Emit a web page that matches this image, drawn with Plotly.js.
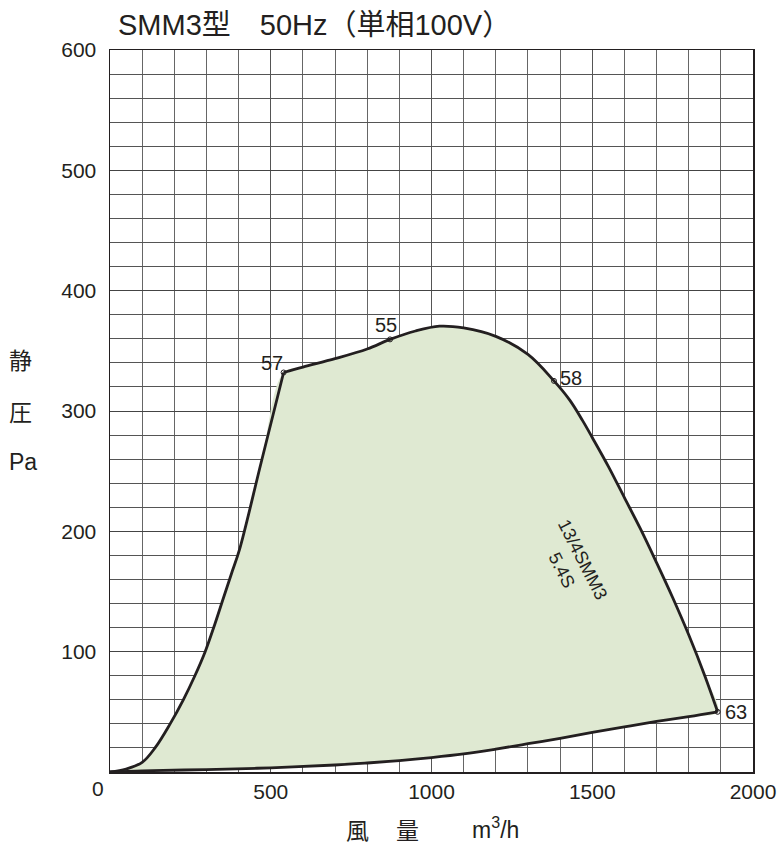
<!DOCTYPE html>
<html>
<head>
<meta charset="utf-8">
<script src="https://cdn.plot.ly/plotly-3.0.1.min.js"></script>
<style>html,body{margin:0;padding:0;background:#fff;}#chart{width:780px;height:847px;}</style>
</head>
<body>
<div id="chart"></div>
<script>
// Left rising curve (from origin up to point 57)
const leftX = [0, 50, 100, 140, 187, 228, 264, 296, 325, 352, 378, 403, 470, 540];
const leftY = [0, 2.5, 8, 20, 40, 60, 80, 100, 122, 144, 165, 185, 257, 332];
// Top curve (57 -> 55 -> peak -> 58 -> 63)
const topX = [540, 600, 700, 800, 871, 950, 1025, 1100, 1200, 1300, 1381, 1430, 1470, 1500, 1550, 1600, 1650, 1700, 1750, 1800, 1850, 1890];
const topY = [332, 336.5, 343.5, 351.5, 359.5, 366.5, 370.5, 369, 362, 347, 325, 309, 292, 278, 254, 228, 202, 174, 145, 114, 80, 50];
// Bottom curve (63 back to origin)
const botX = [1890, 1800, 1700, 1600, 1500, 1400, 1300, 1200, 1100, 1000, 900, 800, 700, 500, 300, 100, 0];
const botY = [50, 46, 42, 37.5, 33, 28, 23.5, 19, 15, 12, 9.5, 7.5, 5.8, 3.5, 2, 1, 0];
// Marked points
const ptLabels = ["57", "55", "58", "63"];
const ptX = [540, 871, 1381, 1890];
const ptY = [332, 359.5, 325, 50];
// Ticks
const xTicks = [500, 1000, 1500, 2000];
const yTicks = [100, 200, 300, 400, 500, 600];
const titleText = "SMM3型　50Hz（単相100V）";
const curveLabel = "13/4SMM3<br>5.4S";

const FONT = "Liberation Sans, Arial, 'Noto Sans CJK JP', sans-serif";
const CJK = "'Noto Sans CJK JP', sans-serif";
const INK = '#231f20';

const px = v => (v - 110) / 643;
const py = v => (772 - v) / 722;

const areaTrace = {
  x: leftX.concat(topX.slice(1), botX.slice(1)),
  y: leftY.concat(topY.slice(1), botY.slice(1)),
  mode: 'lines', fill: 'toself', fillcolor: '#dfe9d2',
  line: {width: 0, color: 'rgba(0,0,0,0)', shape: 'spline', smoothing: 1},
  hoverinfo: 'skip', showlegend: false
};
const seg = (xs, ys) => ({
  x: xs, y: ys, mode: 'lines',
  line: {color: INK, width: 2.8, shape: 'spline', smoothing: 1},
  hoverinfo: 'skip', showlegend: false
});
const ptTrace = {
  x: ptX, y: ptY, mode: 'markers',
  marker: {symbol: 'circle-open', size: 5, color: INK, line: {width: 1, color: INK}},
  cliponaxis: false, showlegend: false, hoverinfo: 'skip'
};

// label placement: [xanchor, yanchor, xshift, yshift]
const ptPlace = [['right', 'bottom', 1, -4], ['center', 'bottom', -4, 1], ['left', 'middle', 4, 3], ['left', 'middle', 5, 0]];
const ptAnns = ptLabels.map((t, i) => ({
  text: t, xref: 'x', yref: 'y', x: ptX[i], y: ptY[i], showarrow: false,
  xanchor: ptPlace[i][0], yanchor: ptPlace[i][1], xshift: ptPlace[i][2], yshift: ptPlace[i][3],
  font: {size: 20, family: FONT, color: INK}
}));

const ann = (text, x, y, size, family) => ({
  text: text, xref: 'paper', yref: 'paper', x: px(x), y: py(y),
  xanchor: 'center', yanchor: 'middle', showarrow: false,
  font: {size: size, family: family, color: INK}
});

const layout = {
  width: 780, height: 847,
  margin: {l: 110, r: 27, t: 50, b: 75},
  paper_bgcolor: '#fff', plot_bgcolor: '#fff',
  font: {family: FONT, color: INK},
  xaxis: {
    range: [0, 2000], tickvals: xTicks, ticktext: xTicks.map(String),
    showgrid: true, gridcolor: '#555', gridwidth: 1,
    minor: {dtick: 100, tick0: 0, showgrid: true, gridcolor: '#666', gridwidth: 1},
    showline: true, mirror: true, linecolor: INK, linewidth: 1.5,
    ticks: '', tickfont: {size: 21, family: FONT}, zeroline: false, fixedrange: true
  },
  yaxis: {
    range: [0, 600], tickvals: yTicks, ticktext: yTicks.map(String),
    showgrid: true, gridcolor: '#444', gridwidth: 1,
    minor: {dtick: 20, tick0: 0, showgrid: true, gridcolor: '#555', gridwidth: 1},
    showline: true, mirror: true, linecolor: INK, linewidth: 1.5,
    ticks: '', ticklabelstandoff: 8, tickfont: {size: 21, family: FONT}, zeroline: false, fixedrange: true
  },
  annotations: [
    {text: titleText, xref: 'paper', yref: 'paper', x: px(116), y: py(25), xanchor: 'left', yanchor: 'middle', showarrow: false, font: {size: 29, family: FONT, color: INK}},
    ann('0', 98, 788, 21, FONT),
    ann('静', 20, 359, 23, CJK),
    ann('圧', 20, 411, 23, CJK),
    ann('Pa', 23, 462, 23, FONT),
    ann('風', 357, 829, 23, CJK),
    ann('量', 407, 829, 23, CJK),
    ann('m<sup>3</sup>/h', 495, 828, 23, FONT),
    {text: curveLabel, xref: 'x', yref: 'y', x: 1440, y: 172, textangle: 63, showarrow: false, align: 'center',
     xanchor: 'center', yanchor: 'middle', font: {size: 18, family: FONT, color: INK}}
  ].concat(ptAnns)
};

Plotly.newPlot('chart', [areaTrace, seg(leftX, leftY), seg(topX, topY), seg(botX, botY), ptTrace], layout, {displayModeBar: false, staticPlot: true});
</script>
</body>
</html>
